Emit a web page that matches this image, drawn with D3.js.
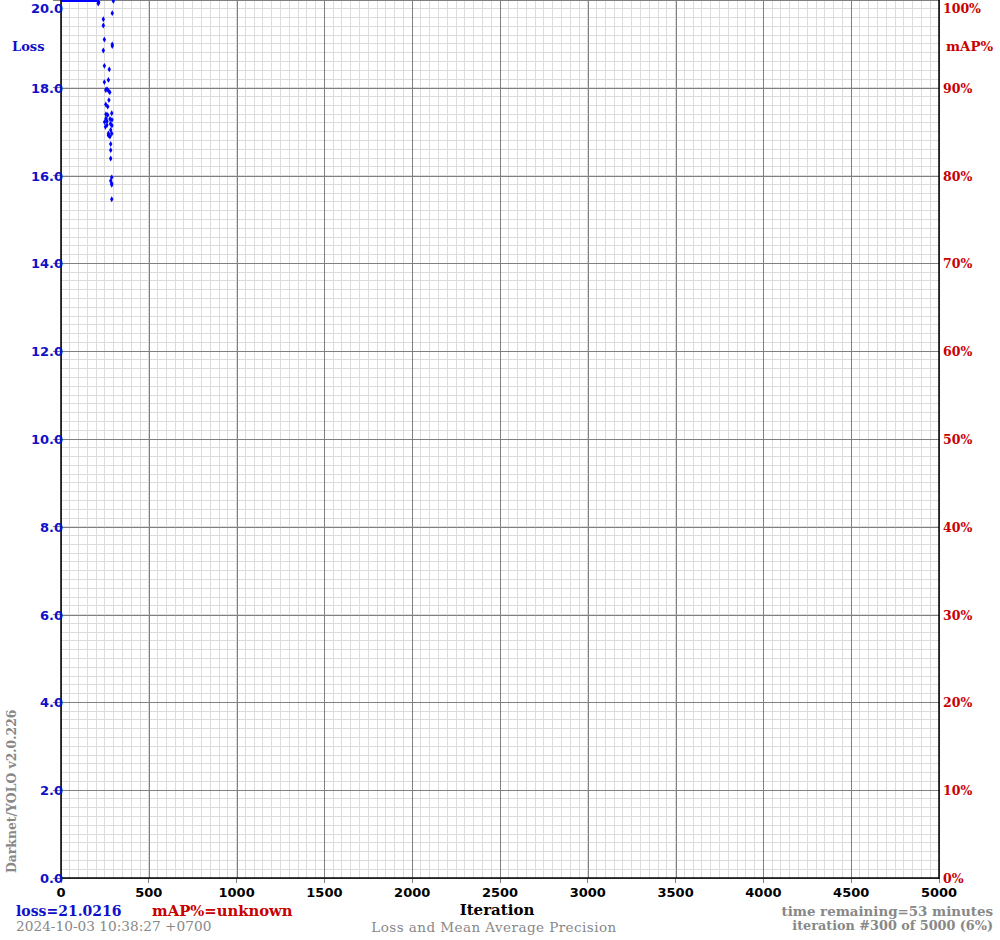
<!DOCTYPE html>
<html>
<head>
<meta charset="utf-8">
<script src="https://cdn.jsdelivr.net/npm/d3@7"></script>
<style>
  html, body { margin: 0; padding: 0; background: #fff; }
  svg { display: block; }
</style>
</head>
<body>
<svg id="chart" width="1000" height="940"></svg>
<script>
// ---------------- data ----------------
const lossTicks = [0, 2, 4, 6, 8, 10, 12, 14, 16, 18, 20];
const mapTicks = [0, 10, 20, 30, 40, 50, 60, 70, 80, 90, 100];
const iterTicks = [0, 500, 1000, 1500, 2000, 2500, 3000, 3500, 4000, 4500, 5000];

// early iterations: loss above the top of the chart (clamped at 20)
const earlyIter = [1, 25, 50, 75, 100, 125, 150, 175, 200, 210];
const earlyLoss = [3500, 2400, 1300, 620, 240, 110, 60, 38, 25, 21.8];

// visible loss points
const pointIter = [212, 215, 298, 292, 241, 241, 247, 292, 292, 241, 247, 275,
  270, 247, 255, 262, 270, 278, 273, 255, 266, 289, 256, 266,
  256, 279, 290, 262, 248, 282, 262, 290, 253, 283, 270, 289,
  270, 279, 283, 283, 283, 289, 283, 289, 289, 289];
const pointLoss = [19.92, 19.95, 19.98, 19.70, 19.56, 19.42, 19.10, 18.99, 18.95, 18.85, 18.50, 18.42,
  18.18, 18.13, 17.95, 17.97, 17.93, 17.90, 17.72, 17.62, 17.57, 17.42, 17.40, 17.38,
  17.30, 17.29, 17.27, 17.24, 17.22, 17.18, 17.15, 17.14, 17.11, 17.04, 16.96, 16.96,
  16.92, 16.89, 16.72, 16.58, 16.39, 15.96, 15.88, 15.82, 15.79, 15.46];

const currentLoss = "loss=21.0216";
const currentMap = "mAP%=unknown";
const timestamp = "2024-10-03 10:38:27 +0700";
const remaining = "time remaining=53 minutes";
const progress = "iteration #300 of 5000 (6%)";
const version = "Darknet/YOLO v2.0.226";

// ---------------- drawing ----------------
const svg = d3.select("#chart");
const L = 61, R = 939, T = 0, B = 878;

const x = d3.scaleLinear().domain([0, 5000]).range([L, R]);
const y = d3.scaleLinear().domain([0, 20]).range([B, T]);
const yMap = d3.scaleLinear().domain([0, 100]).range([B, T]);

const blueText = "#1010c8", redText = "#c80000", grayText = "#888888";
const serif = "'DejaVu Serif', serif";
const sans = "'DejaVu Sans', sans-serif";

svg.append("rect").attr("width", 1000).attr("height", 940).attr("fill", "#fff");

const grid = svg.append("g");
// minor grid
grid.selectAll(".vminor").data(d3.range(0, 5001, 50)).join("line")
  .attr("x1", d => x(d)).attr("x2", d => x(d)).attr("y1", T).attr("y2", B)
  .attr("stroke", "#dcdcdc").attr("stroke-width", 1).attr("shape-rendering", "crispEdges");
grid.selectAll(".hminor").data(d3.range(0, 100.1, 1)).join("line")
  .attr("x1", L).attr("x2", R).attr("y1", d => y(d / 5)).attr("y2", d => y(d / 5))
  .attr("stroke", "#dcdcdc").attr("stroke-width", 1).attr("shape-rendering", "crispEdges");

// major grid using d3 axes
const xAxis = d3.axisBottom(x).tickValues(iterTicks).tickSize(-(B - T)).tickSizeOuter(0).tickFormat("");
const gx = svg.append("g").attr("transform", `translate(0,${B})`).call(xAxis);
gx.select(".domain").remove();
gx.selectAll("line").attr("stroke", "#808080").attr("shape-rendering", "crispEdges");

const yAxis = d3.axisLeft(y).tickValues(lossTicks).tickSize(-(R - L)).tickSizeOuter(0).tickFormat("");
const gy = svg.append("g").attr("transform", `translate(${L},0)`).call(yAxis);
gy.select(".domain").remove();
gy.selectAll("line").attr("stroke", "#808080").attr("shape-rendering", "crispEdges");

// small outside tick marks
svg.append("g").selectAll("line").data(lossTicks).join("line")
  .attr("x1", L - 8).attr("x2", L).attr("y1", d => y(d)).attr("y2", d => y(d))
  .attr("stroke", "#808080").attr("shape-rendering", "crispEdges");
svg.append("g").selectAll("line").data(iterTicks).join("line")
  .attr("x1", d => x(d)).attr("x2", d => x(d)).attr("y1", B).attr("y2", B + 5)
  .attr("stroke", "#808080").attr("shape-rendering", "crispEdges");

// axis frame lines
svg.append("line").attr("x1", L).attr("x2", L).attr("y1", T).attr("y2", B + 1)
  .attr("stroke", "#000").attr("stroke-width", 1.5);
svg.append("line").attr("x1", R).attr("x2", R).attr("y1", T).attr("y2", B + 1)
  .attr("stroke", "#000").attr("stroke-width", 1.5);
svg.append("line").attr("x1", L).attr("x2", R).attr("y1", B).attr("y2", B)
  .attr("stroke", "#000").attr("stroke-width", 1.5);

// loss data: early clamped line
const clampY = v => y(Math.min(v, 20));
const early = earlyIter.map((d, i) => [d, earlyLoss[i]]);
svg.append("path").datum(early)
  .attr("d", d3.line().x(d => x(d[0])).y(d => clampY(d[1]) + 0.5))
  .attr("fill", "none").attr("stroke", "#0000ff").attr("stroke-width", 3);

// scatter points
const pts = pointIter.map((d, i) => [d, pointLoss[i]]);
const diamond = d3.symbol().type(d3.symbolDiamond).size(10);
svg.append("g").selectAll("path").data(pts).join("path")
  .attr("transform", d => `translate(${x(d[0])},${clampY(d[1])})`)
  .attr("d", diamond).attr("fill", "#0000ff");

// left tick labels (kept inside the picture at the top)
svg.append("g").selectAll("text").data(lossTicks).join("text")
  .attr("x", L + 2).attr("y", d => Math.max(y(d) + 5, 13))
  .attr("text-anchor", "end")
  .attr("font-family", sans).attr("font-weight", "bold").attr("font-size", 13)
  .attr("fill", blueText)
  .text(d => d.toFixed(1));

// right tick labels
svg.append("g").selectAll("text").data(mapTicks).join("text")
  .attr("x", R + 4).attr("y", d => Math.max(yMap(d) + 5, 13))
  .attr("text-anchor", "start")
  .attr("font-family", serif).attr("font-weight", "bold").attr("font-size", 12.5)
  .attr("fill", redText)
  .text(d => d + "%");

// bottom tick labels
svg.append("g").selectAll("text").data(iterTicks).join("text")
  .attr("x", d => x(d)).attr("y", B + 19)
  .attr("text-anchor", "middle")
  .attr("font-family", sans).attr("font-weight", "bold").attr("font-size", 13)
  .attr("fill", "#000")
  .text(d => d);

// axis titles
svg.append("text").attr("x", 12).attr("y", 51)
  .attr("font-family", serif).attr("font-weight", "bold").attr("font-size", 13)
  .attr("fill", blueText).text("Loss");
svg.append("text").attr("x", 946).attr("y", 51)
  .attr("font-family", serif).attr("font-weight", "bold").attr("font-size", 13.3)
  .attr("fill", redText).text("mAP%");
svg.append("text").attr("x", 497).attr("y", 915).attr("text-anchor", "middle")
  .attr("font-family", serif).attr("font-weight", "bold").attr("font-size", 15)
  .attr("fill", "#000").text("Iteration");
svg.append("text").attr("x", 494).attr("y", 932).attr("text-anchor", "middle")
  .attr("font-family", serif).attr("font-size", 13.5).attr("letter-spacing", 0.45)
  .attr("fill", grayText).text("Loss and Mean Average Precision");

// status texts
svg.append("text").attr("x", 16).attr("y", 916)
  .attr("font-family", serif).attr("font-weight", "bold").attr("font-size", 14)
  .attr("fill", blueText).text(currentLoss);
svg.append("text").attr("x", 152).attr("y", 916)
  .attr("font-family", serif).attr("font-weight", "bold").attr("font-size", 14.8)
  .attr("fill", redText).text(currentMap);
svg.append("text").attr("x", 16).attr("y", 931)
  .attr("font-family", serif).attr("font-size", 13.7)
  .attr("fill", grayText).text(timestamp);
svg.append("text").attr("x", 993).attr("y", 916).attr("text-anchor", "end")
  .attr("font-family", serif).attr("font-weight", "bold").attr("font-size", 13.4)
  .attr("fill", grayText).text(remaining);
svg.append("text").attr("x", 993).attr("y", 930).attr("text-anchor", "end")
  .attr("font-family", serif).attr("font-weight", "bold").attr("font-size", 12.8)
  .attr("fill", grayText).text(progress);
svg.append("text").attr("transform", "translate(16,873) rotate(-90)")
  .attr("font-family", serif).attr("font-weight", "bold").attr("font-size", 12.4)
  .attr("fill", grayText).text(version);
</script>
</body>
</html>
